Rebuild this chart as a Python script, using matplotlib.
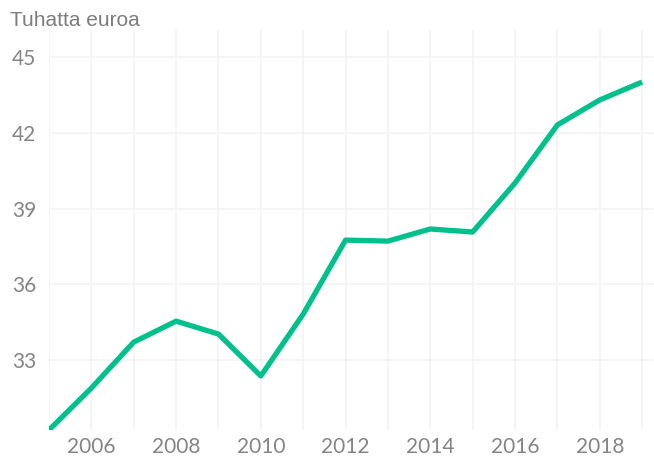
import matplotlib
matplotlib.use("Agg")
import matplotlib.pyplot as plt

years = [2005, 2006, 2007, 2008, 2009, 2010, 2011, 2012, 2013, 2014, 2015, 2016, 2017, 2018, 2019]
values = [30.23, 31.89, 33.71, 34.54, 34.03, 32.37, 34.82, 37.75, 37.71, 38.19, 38.07, 40.01, 42.31, 43.30, 44.01]
yticks = [33, 36, 39, 42, 45]
xticks = [2006, 2008, 2010, 2012, 2014, 2016, 2018]
ylabel = "Tuhatta euroa"

fig = plt.figure(figsize=(6.54, 4.62), dpi=100)
ax = fig.add_axes([49/654, 32/462, 1 - 49/654, 400/462])
ax.plot(years, values, color="#00C08B", lw=3.8, solid_capstyle="butt", clip_on=True, zorder=3)
ax.set_xlim(2005, 2019.28)
ax.set_ylim(30.23, 46.07)
ax.set_xticks(xticks)
ax.set_xticks(years, minor=True)
ax.set_yticks(yticks)
ax.grid(True, which="both", axis="x", color="#f3f3f3", lw=1.1)
ax.grid(True, which="major", axis="y", color="#f3f3f3", lw=1.1)
for s in ax.spines.values():
    s.set_visible(False)
ax.tick_params(which="both", length=0)
ax.tick_params(axis="both", labelsize=15, labelcolor="#858585")
ax.tick_params(axis="x", pad=5)
ax.tick_params(axis="y", pad=9)
for lab in ax.get_xticklabels() + ax.get_yticklabels():
    lab.set_family("Lato")
fig.text(10/654, 1 - 20/462, ylabel, fontsize=15, color="#7d7d7d", family="Liberation Sans", va="center", ha="left")
fig.savefig("out.png", dpi=100)
